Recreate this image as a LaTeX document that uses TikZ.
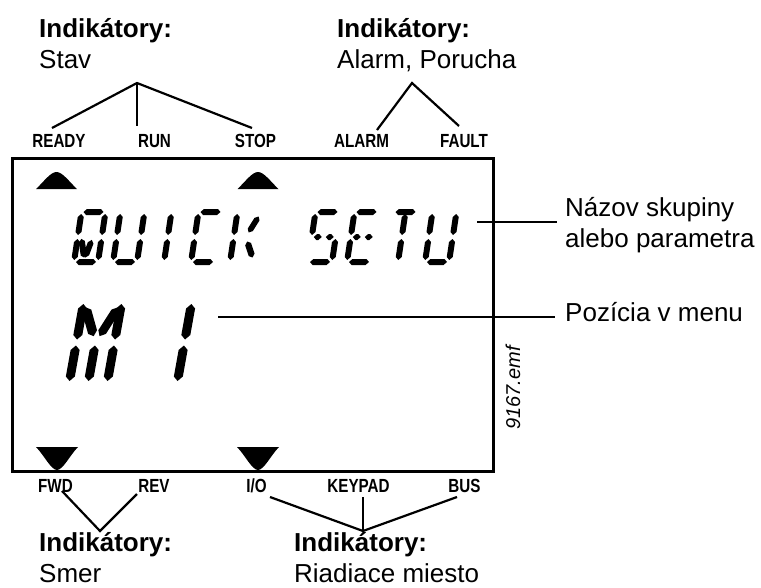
\documentclass[tikz,border=0pt]{standalone}
\usepackage{fontspec}
\setmainfont{Liberation Sans}
\newfontfamily\lcdlabel[FakeStretch=0.8]{Liberation Sans}
\usetikzlibrary{calc}

% ---- 14-segment LCD glyph machinery ----
\def\hf{3pt}\def\gp{2pt}\def\gpd{5pt}\def\slnt{0.15}
\def\segW{24}\def\segH{50}\def\segM{25}\def\segC{12}
\newcommand\lcdsg[5]{\fill ($(#2,#3)!#1!(#4,#5)$)
  -- ($(#2,#3)!#1+\hf!(#4,#5)!\hf!90:(#4,#5)$)
  -- ($(#4,#5)!#1+\hf!(#2,#3)!\hf!-90:(#2,#3)$)
  -- ($(#4,#5)!#1!(#2,#3)$)
  -- ($(#4,#5)!#1+\hf!(#2,#3)!\hf!90:(#2,#3)$)
  -- ($(#2,#3)!#1+\hf!(#4,#5)!\hf!-90:(#4,#5)$) -- cycle;}
\def\sega{\lcdsg{\gp}{0}{-\segH}{\segW}{-\segH}}
\def\segb{\lcdsg{\gp}{\segW}{-\segH}{\segW}{-\segM}}
\def\segc{\lcdsg{\gp}{\segW}{-\segM}{\segW}{0}}
\def\segd{\lcdsg{\gp}{0}{0}{\segW}{0}}
\def\sege{\lcdsg{\gp}{0}{-\segM}{0}{0}}
\def\segf{\lcdsg{\gp}{0}{-\segH}{0}{-\segM}}
\def\segga{\lcdsg{\gp}{0}{-\segM}{\segC}{-\segM}}
\def\seggb{\lcdsg{\gp}{\segC}{-\segM}{\segW}{-\segM}}
\def\segh{\lcdsg{\gpd}{0}{-\segH}{\segC}{-\segM}}
\def\segi{\lcdsg{\gp}{\segC}{-\segH}{\segC}{-\segM}}
\def\segj{\lcdsg{\gpd}{\segW}{-\segH}{\segC}{-\segM}}
\def\segl{\lcdsg{\gp}{\segC}{-\segM}{\segC}{0}}
\def\segm{\lcdsg{\gpd}{\segC}{-\segM}{\segW}{0}}
\def\segqa{\lcdsg{\gp}{0.14*\segW}{-0.5*\segH}{0.42*\segW}{-0.05*\segH}}
\def\segqb{\lcdsg{\gp}{0.62*\segW}{-0.48*\segH}{0.42*\segW}{-0.05*\segH}}
\newcommand\lcdglyph[3]{\begin{scope}[shift={(#1,#2)},xslant=\slnt]
  \foreach \sgname in {#3}{\csname seg\sgname\endcsname}\end{scope}}

\newcommand\uptri[1]{\fill (#1-20.5,189) .. controls (#1-13,182) and (#1-6,172) .. (#1,172)
  .. controls (#1+6,172) and (#1+13,182) .. (#1+20.5,189) -- cycle;}
\newcommand\downtri[1]{\fill (#1-21,447) -- (#1+21,447) .. controls (#1+13,455) and (#1+6,470) .. (#1,470)
  .. controls (#1-6,470) and (#1-13,455) .. (#1-21,447) -- cycle;}

\tikzset{
  lbl/.style={inner sep=0pt, anchor=base west, font=\fontsize{26}{31}\selectfont},
  lblb/.style={inner sep=0pt, anchor=base west, font=\fontsize{26}{31}\selectfont\bfseries},
  ind/.style={inner sep=0pt, anchor=base, font=\lcdlabel\bfseries\fontsize{19}{19}\selectfont},
  conn/.style={line width=2.2pt},
  callout/.style={line width=2.5pt},
  lcdbox/.style={line width=3pt}
}

\begin{document}
\begin{tikzpicture}[x=1pt,y=-1pt]
\useasboundingbox (0,0) rectangle (761,587);

% LCD frame
\draw[lcdbox] (12,158) rectangle (493,471);

% triangles
\uptri{56.5}
\uptri{258}
\downtri{57}
\downtri{258}

% LCD text QUICK SETU
\lcdglyph{74}{262}{a,b,c,d,e,f,qa,qb}
\lcdglyph{113}{262}{b,c,d,e,f}
\lcdglyph{152}{262}{i,l}
\lcdglyph{191}{262}{a,d,e,f}
\lcdglyph{230}{262}{e,f,j,m}
\lcdglyph{308}{262}{a,f,ga,gb,c,d}
\lcdglyph{347}{262}{a,d,e,f,ga,gb}
\lcdglyph{386}{262}{a,i,l}
\lcdglyph{425}{262}{b,c,d,e,f}

% LCD text M 1
\def\hf{4.5pt}\def\gp{3pt}\def\gpd{7pt}\def\slnt{0.18}
\def\segW{38}\def\segH{83}\def\segM{41.5}\def\segC{19}
\lcdglyph{69}{384}{b,c,e,f,h,j,l}
\lcdglyph{139}{384}{b,c}

% indicator labels
\node[ind] (ready) at (59,147) {READY};
\node[ind] (run) at (154.5,147) {RUN};
\node[ind] (stop) at (255.5,147) {STOP};
\node[ind] (alarm) at (361.5,147) {ALARM};
\node[ind] (fault) at (464,147) {FAULT};
\node[ind] (fwd) at (55.5,492) {FWD};
\node[ind] (rev) at (154,492) {REV};
\node[ind] (io) at (256.5,492) {I/O};
\node[ind] (keypad) at (358.5,492) {KEYPAD};
\node[ind] (bus) at (464.5,492) {BUS};

% text labels
\node[lblb] (t1) at (39,37) {Indikátory:};
\node[lbl] (t1b) at (39,68) {Stav};
\node[lblb] (t2) at (337,37) {Indikátory:};
\node[lbl] (t2b) at (337,68) {Alarm, Porucha};
\node[lblb] (b1) at (39,551) {Indikátory:};
\node[lbl] (b1b) at (39,582) {Smer};
\node[lblb] (b2) at (294,551) {Indikátory:};
\node[lbl] (b2b) at (294,582) {Riadiace miesto};
\node[lbl] (r1) at (565,216) {Názov skupiny};
\node[lbl] (r1b) at (565,247) {alebo parametra};
\node[lbl] (r2) at (565,321) {Pozícia v menu};
\node[inner sep=0pt, rotate=90, font=\itshape\fontsize{20}{20}\selectfont] (emf) at (513,388) {9167.emf};

% connector points
\coordinate (apx1) at (137,83);
\coordinate (readyT) at (52,128);
\coordinate (runT) at (137,126);
\coordinate (stopT) at (252,128);
\coordinate (apx2) at (412,83);
\coordinate (alarmT) at (377,130);
\coordinate (faultT) at (459,126);
\coordinate (apx3) at (100,531);
\coordinate (fwdB) at (62,491);
\coordinate (revB) at (137,494);
\coordinate (apx4) at (363,531);
\coordinate (ioB) at (270,497);
\coordinate (keyB) at (363,497);
\coordinate (busB) at (457,497);
\coordinate (c1a) at (477,222);
\coordinate (c1b) at (557,222);
\coordinate (c2a) at (218,317);
\coordinate (c2b) at (555,317);

\draw[conn] (readyT) -- (apx1) -- (stopT);
\draw[conn] (apx1) -- (runT);
\draw[conn] (alarmT) -- (apx2) -- (faultT);
\draw[conn] (fwdB) -- (apx3) -- (revB);
\draw[conn] (ioB) -- (apx4) -- (busB);
\draw[conn] (keyB) -- (apx4);
\draw[callout] (c1a) -- (c1b);
\draw[callout] (c2a) -- (c2b);
\end{tikzpicture}
\end{document}
